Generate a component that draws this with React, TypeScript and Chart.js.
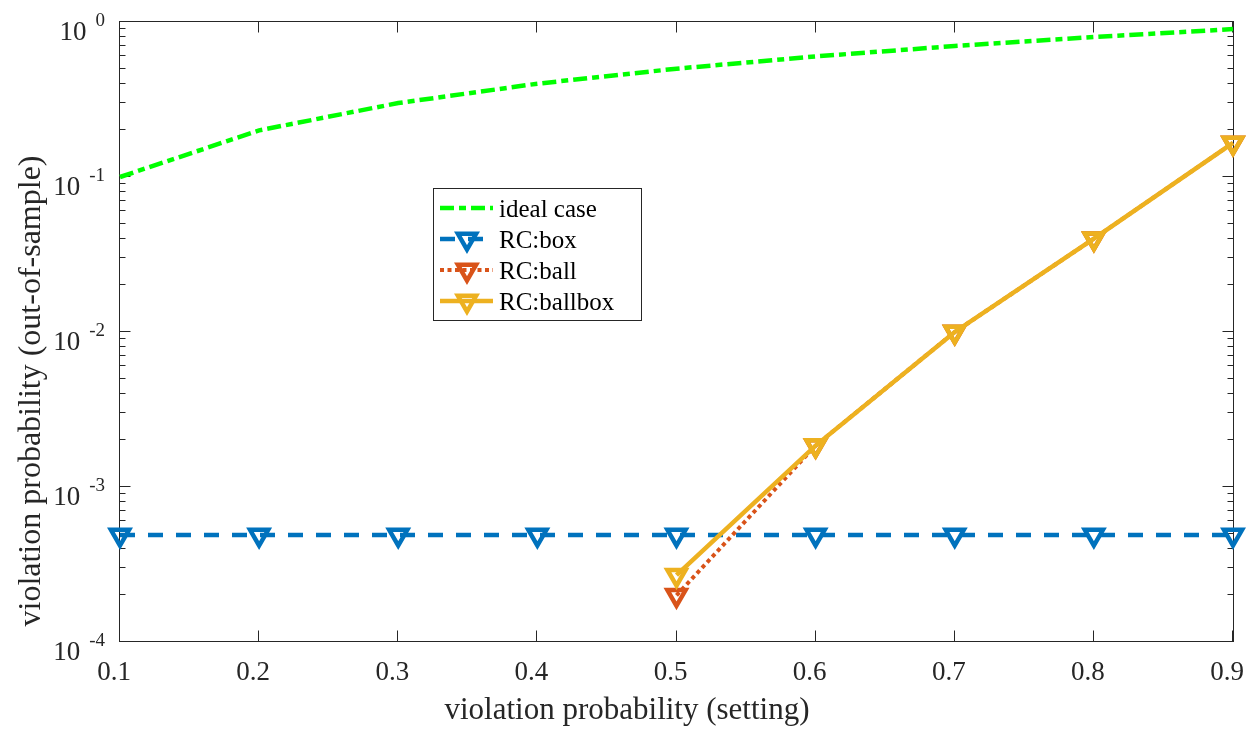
import { useEffect, useRef } from 'react';
import { Chart, registerables } from 'chart.js';

Chart.register(...registerables);

// violation probability used as the design setting
const settings = [0.1, 0.2, 0.3, 0.4, 0.5, 0.6, 0.7, 0.8, 0.9];

// out-of-sample violation probability for each method
const idealCase = [0.1, 0.2, 0.3, 0.4, 0.5, 0.6, 0.7, 0.8, 0.9];
const rcBox = [4.9e-4, 4.9e-4, 4.9e-4, 4.9e-4, 4.9e-4, 4.9e-4, 4.9e-4, 4.9e-4, 4.9e-4];
const rcBall = [null, null, null, null, 2.0e-4, 1.85e-3, 1.0e-2, 4.0e-2, 0.166];
const rcBallbox = [null, null, null, null, 2.7e-4, 1.85e-3, 1.0e-2, 4.0e-2, 0.166];

const seriesNames = ['ideal case', 'RC:box', 'RC:ball', 'RC:ballbox'];

// axis ticks
const xTicks = [0.1, 0.2, 0.3, 0.4, 0.5, 0.6, 0.7, 0.8, 0.9];
const yDecades = [-4, -3, -2, -1, 0];
const xTitle = 'violation probability (setting)';
const yTitle = 'violation probability (out-of-sample)';

// styling
const colors = ['#00FF00', '#0072BD', '#D95319', '#EDB120'];
const dashes: number[][] = [[14, 5, 7, 5], [15, 13], [4, 3.5], []];
const widths = [4.5, 4.5, 4, 4.5];
const hasMarker = [false, true, true, true];
const AXIS = '#262626';
const SERIF = '"Liberation Serif", "Times New Roman", serif';
const MARKER_R = 10.5;
const MARKER_W = 4.5;

function downTriangle(ctx: CanvasRenderingContext2D, x: number, y: number, r: number) {
  let rad = Math.PI;
  ctx.beginPath();
  ctx.moveTo(x + Math.sin(rad) * r, y - Math.cos(rad) * r);
  rad += (2 * Math.PI) / 3;
  ctx.lineTo(x + Math.sin(rad) * r, y - Math.cos(rad) * r);
  rad += (2 * Math.PI) / 3;
  ctx.lineTo(x + Math.sin(rad) * r, y - Math.cos(rad) * r);
  ctx.closePath();
  ctx.stroke();
}

// Box, inward ticks and tick labels in the MATLAB style
const axesFrame = {
  id: 'axesFrame',
  beforeDatasetsDraw(chart: any) {
    const ctx: CanvasRenderingContext2D = chart.ctx;
    const { left, right, top, bottom } = chart.chartArea;
    const xs = chart.scales.x;
    const ys = chart.scales.y;
    const L = left - 0.5, R = right + 0.5, T = top - 0.5, B = bottom - 0.5;
    ctx.save();
    ctx.strokeStyle = AXIS;
    ctx.lineWidth = 1;
    ctx.strokeRect(L, T, R - L, B - T);

    ctx.beginPath();
    for (const v of xTicks) {
      const px = Math.round(xs.getPixelForValue(v)) - 0.5;
      ctx.moveTo(px, B); ctx.lineTo(px, B - 11);
      ctx.moveTo(px, T); ctx.lineTo(px, T + 11);
    }
    for (const d of yDecades) {
      const py = Math.round(ys.getPixelForValue(Math.pow(10, d))) - 0.5;
      ctx.moveTo(L, py); ctx.lineTo(L + 11, py);
      ctx.moveTo(R, py); ctx.lineTo(R - 11, py);
      if (d < 0) {
        for (let k = 2; k <= 9; k++) {
          const pm = Math.round(ys.getPixelForValue(k * Math.pow(10, d))) - 0.5;
          ctx.moveTo(L, pm); ctx.lineTo(L + 6, pm);
          ctx.moveTo(R, pm); ctx.lineTo(R - 6, pm);
        }
      }
    }
    ctx.stroke();

    ctx.fillStyle = AXIS;
    ctx.font = `27px ${SERIF}`;
    ctx.textAlign = 'center';
    ctx.textBaseline = 'alphabetic';
    for (const v of xTicks) {
      ctx.fillText(v.toFixed(1), xs.getPixelForValue(v) - 6, bottom + 38);
    }

    ctx.textAlign = 'right';
    for (const d of yDecades) {
      const py = ys.getPixelForValue(Math.pow(10, d));
      const exp = String(d);
      ctx.font = `19px ${SERIF}`;
      const ew = ctx.measureText(exp).width;
      ctx.fillText(exp, left - 15, py + 4);
      ctx.font = `27px ${SERIF}`;
      ctx.fillText('10', left - 15 - ew - 9, py + 18);
    }

    ctx.textAlign = 'center';
    ctx.font = `31px ${SERIF}`;
    ctx.fillText(xTitle, 627, 719);
    ctx.font = `32px ${SERIF}`;
    ctx.translate(40, 391);
    ctx.rotate(-Math.PI / 2);
    ctx.fillText(yTitle, 0, 0);
    ctx.restore();
  },
  afterDatasetsDraw(chart: any) {
    const ctx: CanvasRenderingContext2D = chart.ctx;
    ctx.save();
    ctx.fillStyle = '#FFFFFF';
    ctx.fillRect(433.5, 188.5, 208, 132);
    ctx.strokeStyle = AXIS;
    ctx.lineWidth = 1;
    ctx.strokeRect(433.5, 188.5, 208, 132);
    seriesNames.forEach((name, i) => {
      const y = 208 + i * 31;
      ctx.strokeStyle = colors[i];
      ctx.lineWidth = widths[i];
      ctx.setLineDash(dashes[i]);
      ctx.beginPath();
      ctx.moveTo(440, y);
      ctx.lineTo(493, y);
      ctx.stroke();
      ctx.setLineDash([]);
      if (hasMarker[i]) {
        ctx.lineWidth = MARKER_W;
        downTriangle(ctx, 467, y, MARKER_R);
      }
      ctx.fillStyle = '#000000';
      ctx.font = `25px ${SERIF}`;
      ctx.textAlign = 'left';
      ctx.textBaseline = 'alphabetic';
      ctx.fillText(name, 499, y + 9);
    });
    ctx.restore();
  },
};

export default function App() {
  const ref = useRef<HTMLCanvasElement>(null);

  useEffect(() => {
    document.body.style.margin = '0';
    const series = [idealCase, rcBox, rcBall, rcBallbox];
    const chart = new Chart(ref.current as HTMLCanvasElement, {
      type: 'line',
      data: {
        datasets: series.map((vals, i) => ({
          label: seriesNames[i],
          data: settings.map((x, j) => ({ x, y: vals[j] })),
          borderColor: colors[i],
          borderWidth: widths[i],
          borderDash: dashes[i],
          borderCapStyle: 'butt',
          fill: false,
          tension: 0,
          spanGaps: false,
          clip: false,
          order: series.length - 1 - i,
          pointStyle: 'triangle',
          pointRotation: 180,
          pointRadius: hasMarker[i] ? MARKER_R : 0,
          pointHoverRadius: hasMarker[i] ? MARKER_R : 0,
          pointBorderWidth: MARKER_W,
          pointBorderColor: colors[i],
          pointBackgroundColor: 'rgba(0,0,0,0)',
        })) as any,
      },
      options: {
        responsive: false,
        animation: false,
        devicePixelRatio: 1,
        events: [],
        layout: { padding: { left: 120, top: 22, right: 25, bottom: 90 } },
        plugins: { legend: { display: false }, tooltip: { enabled: false } },
        scales: {
          x: { type: 'linear', min: 0.1, max: 0.9, display: false },
          y: { type: 'logarithmic', min: 1e-4, max: 1, display: false },
        },
      },
      plugins: [axesFrame],
    });
    return () => chart.destroy();
  }, []);

  return (
    <div style={{ width: 1258, height: 732 }}>
      <canvas ref={ref} width={1258} height={732} style={{ display: 'block' }} />
    </div>
  );
}
